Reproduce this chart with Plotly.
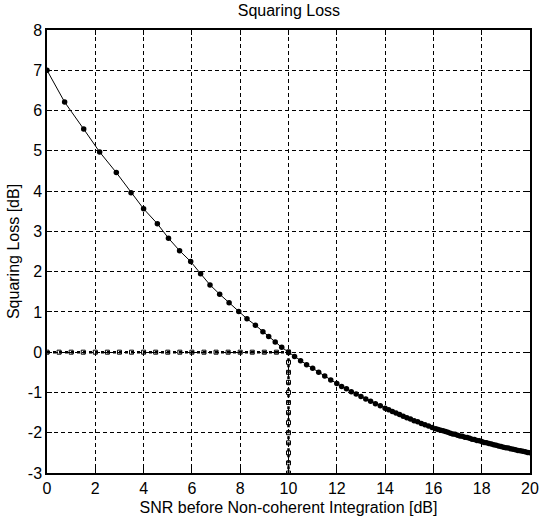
import plotly.graph_objects as go

# Squaring loss curve
snr_db = [0, 0.73, 1.52, 2.18, 2.87, 3.48, 4.0, 4.57, 5.03, 5.49, 5.95, 6.36, 6.75, 7.15,
          7.54, 7.94, 8.28, 8.63, 8.94, 9.18, 9.45, 9.72, 10.0,
          10.25, 10.5, 10.75, 11.0, 11.25, 11.5, 11.75, 12.0,
          12.2, 12.4, 12.6, 12.8, 13.0, 13.2, 13.4, 13.6, 13.8, 14.0,
          14.15, 14.3, 14.45, 14.6, 14.75, 14.9, 15.05, 15.2, 15.35, 15.5, 15.65, 15.8, 15.95,
          16.1, 16.2, 16.3, 16.4, 16.5, 16.6, 16.7, 16.8, 16.9, 17.0,
          17.1, 17.2, 17.3, 17.4, 17.5, 17.6, 17.7, 17.8, 17.9, 18.0,
          18.1, 18.2, 18.3, 18.4, 18.5, 18.6, 18.7, 18.8, 18.9, 19.0,
          19.1, 19.2, 19.3, 19.4, 19.5, 19.6, 19.7, 19.8, 19.9, 20.0]
loss_db = [7.0, 6.21, 5.54, 4.97, 4.46, 3.96, 3.56, 3.19, 2.83, 2.52, 2.25, 1.95, 1.67, 1.44,
           1.23, 1.01, 0.83, 0.67, 0.51, 0.39, 0.25, 0.12, 0.0,
           -0.11, -0.21, -0.31, -0.40, -0.50, -0.59, -0.69, -0.78,
           -0.85, -0.91, -0.98, -1.04, -1.10, -1.16, -1.22, -1.28, -1.33, -1.39,
           -1.43, -1.47, -1.51, -1.55, -1.59, -1.63, -1.66, -1.70, -1.73, -1.77, -1.80, -1.83, -1.87,
           -1.90, -1.92, -1.94, -1.95, -1.97, -1.99, -2.01, -2.03, -2.04, -2.06,
           -2.08, -2.09, -2.11, -2.12, -2.14, -2.16, -2.17, -2.19, -2.20, -2.22,
           -2.24, -2.25, -2.27, -2.28, -2.30, -2.31, -2.33, -2.34, -2.36, -2.37,
           -2.38, -2.40, -2.41, -2.42, -2.44, -2.45, -2.46, -2.47, -2.49, -2.50]

# Reference (dotted) lines marking the 0 dB crossing at 10 dB
h_x = [0, 0.5, 1, 1.5, 2, 2.5, 3, 3.5, 4, 4.5, 5, 5.5, 6, 6.5, 7, 7.5, 8, 8.5, 9, 9.5, 10]
h_y = [0] * len(h_x)
v_y = [0, -0.25, -0.5, -0.75, -1, -1.25, -1.5, -1.75, -2, -2.25, -2.5, -2.75, -3]
v_x = [10] * len(v_y)

x_ticks = [0, 2, 4, 6, 8, 10, 12, 14, 16, 18, 20]
y_ticks = [-3, -2, -1, 0, 1, 2, 3, 4, 5, 6, 7, 8]

FONT = "Liberation Sans Narrow, Arial Narrow, Liberation Sans, Arial"

fig = go.Figure()
fig.add_trace(go.Scatter(x=h_x, y=h_y, mode="lines+markers",
                         line=dict(color="black", width=2.5, dash="dot"),
                         marker=dict(symbol="square-open", size=4, color="black", line=dict(width=1)),
                         showlegend=False, hoverinfo="skip"))
fig.add_trace(go.Scatter(x=v_x, y=v_y, mode="lines+markers",
                         line=dict(color="black", width=2.5, dash="dot"),
                         marker=dict(symbol="square-open", size=4, color="black", line=dict(width=1)),
                         showlegend=False, hoverinfo="skip"))
fig.add_trace(go.Scatter(x=snr_db, y=loss_db, mode="lines+markers",
                         line=dict(color="black", width=1),
                         marker=dict(symbol="circle", size=5.5, color="black"),
                         showlegend=False))

axis_common = dict(
    showline=True, linecolor="black", linewidth=1.5, mirror="ticks",
    ticks="inside", ticklen=5, tickcolor="black", tickwidth=1,
    showgrid=True, gridcolor="black", gridwidth=1, griddash="4px,3px",
    zeroline=False, tickfont=dict(family=FONT, size=16, color="black"),
    ticklabeloverflow="allow",
)

fig.update_xaxes(range=[0, 20], tickvals=x_ticks, ticktext=[str(v) for v in x_ticks],
                 automargin=False,
                 title=dict(text="SNR before Non-coherent Integration [dB]",
                            font=dict(family=FONT, size=16, color="black"), standoff=6),
                 **axis_common)
fig.update_yaxes(range=[-3, 8], tickvals=y_ticks, ticktext=[str(v) for v in y_ticks],
                 automargin=False,
                 title=dict(text="Squaring Loss [dB]",
                            font=dict(family=FONT, size=16, color="black"), standoff=4),
                 **axis_common)

fig.update_layout(
    width=540, height=526,
    margin=dict(l=47, r=10, t=30, b=53),
    paper_bgcolor="white", plot_bgcolor="white",
    title=dict(text="Squaring Loss", x=0.535, xanchor="center", y=0.99, yanchor="top",
               font=dict(family=FONT, size=16, color="black")),
)

fig.write_html("out.html")
